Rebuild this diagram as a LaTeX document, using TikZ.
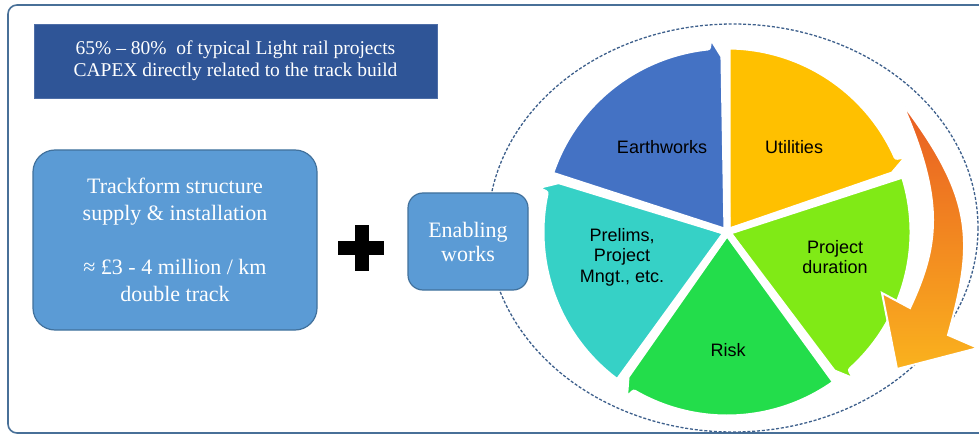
\documentclass[tikz,border=0pt]{standalone}
\usepackage{fontspec}
\setmainfont{Liberation Serif}
\newfontfamily\arialf{Liberation Sans}
\usetikzlibrary{calc}
\definecolor{frameblue}{RGB}{72,112,152}
\definecolor{titleblue}{RGB}{47,85,151}
\definecolor{boxblue}{RGB}{91,155,213}
\definecolor{boxedge}{RGB}{65,113,156}
\definecolor{ellcol}{RGB}{62,96,140}
\definecolor{cEarth}{RGB}{68,114,196}
\definecolor{cUtil}{RGB}{255,192,0}
\definecolor{cProj}{RGB}{128,234,22}
\definecolor{cRisk}{RGB}{35,221,75}
\definecolor{cPrel}{RGB}{54,209,198}
\definecolor{arrTop}{RGB}{232,92,36}
\definecolor{arrMid}{RGB}{242,135,32}
\definecolor{arrBot}{RGB}{250,178,30}
\tikzset{
  bluebox/.style={draw=boxedge, line width=1.2pt, fill=boxblue, rounded corners=#1,
    text=white, align=center, inner sep=0pt},
  pielabel/.style={font=\arialf\fontsize{18}{20.5}\selectfont, text=black, align=center},
}
\begin{document}
\begin{tikzpicture}[x=1pt,y=-1pt]
\useasboundingbox (0,0) rectangle (979,438);
\clip (0,0) rectangle (979,438);
\fill[white] (0,0) rectangle (979,438);
% frame
\draw[frameblue, line width=1.6pt, rounded corners=9] (8,5) rectangle (1010,433);
% title
\node[fill=titleblue, draw=titleblue!85!white, line width=0.6pt, minimum width=403, minimum height=74,
      text=white, align=center, inner sep=0pt, font=\fontsize{19.5}{22}\selectfont] (title) at (235.5,61)
  {65\% -- 80\%\ \ of typical Light rail projects\\CAPEX directly related to the track build};
% left box
\node[bluebox=22, minimum width=284, minimum height=180, font=\fontsize{22}{27}\selectfont] (track) at (175,240)
  {Trackform structure\\supply \& installation\\[27pt]≈ £3 - 4 million / km\\double track};
% plus
\fill[black] (354.5,225) rectangle (368.5,271);
\fill[black] (338,241.5) rectangle (384,255.5);
% dashed ellipse
\draw[ellcol, line width=1.3pt, dash pattern=on 3pt off 1.8pt] (733,228) ellipse [x radius=245, y radius=204];
% pie
\coordinate (C) at (727,232);
\def\R{186}
\foreach \s/\col in {90/cUtil, 18/cProj, -54/cRisk, -126/cPrel, 162/cEarth} {
  \pgfmathsetmacro\ps{-(\s)}
  \pgfmathsetmacro\pe{-(\s)+72}
  \pgfmathsetmacro\pn{\pe-6}
  \pgfmathsetmacro\pb{\pe-5}
  \pgfmathsetmacro\pt{\pe-1}
  \fill[\col, draw=white, line width=7pt, line join=round]
    (C) -- ++(\ps:\R) arc[start angle=\ps, end angle=\pn, radius=\R]
    -- ($(C)+(\pb:\R+14)$) -- ($(C)+(\pt:\R-10)$) -- cycle;
}
\node[pielabel] (earth) at (662,147) {Earthworks};
\node[pielabel] (util) at (794,147) {Utilities};
\node[pielabel] (proj) at (835,257) {Project\\duration};
\node[pielabel] (risk) at (728,350) {Risk};
\node[pielabel] (prel) at (622,257) {Prelims,\\Project\\Mngt., etc.};
% enabling works
\node[bluebox=15, minimum width=120, minimum height=97, font=\fontsize{22}{24}\selectfont] (enab) at (468,241.5)
  {Enabling\\works};
% orange curved arrow
\path[draw=white, line width=2pt, top color=arrTop, bottom color=arrBot, middle color=arrMid]
  (902,103) .. controls (974.5,198.4) and (974.1,242.5) .. (948,335)
  -- (978,348) -- (897,369) -- (882,293) -- (910,308)
  .. controls (938.3,247) and (945.7,202.6) .. (902,103) -- cycle;
\end{tikzpicture}
\end{document}
